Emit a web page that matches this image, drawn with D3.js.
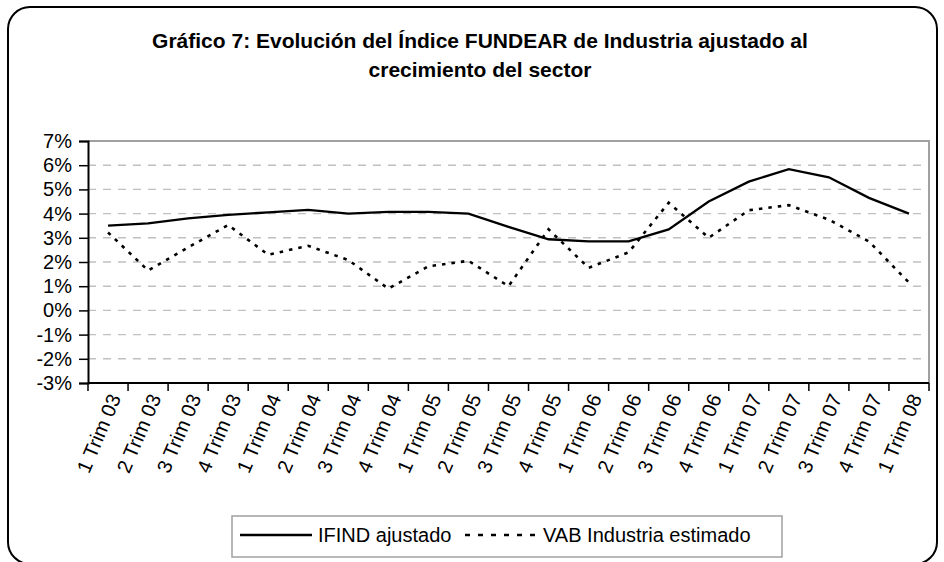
<!DOCTYPE html>
<html>
<head>
<meta charset="utf-8">
<script src="https://cdn.jsdelivr.net/npm/d3@7"></script>
<style>
  body { margin: 0; background: #fff; }
  svg { font-family: "Liberation Sans", Arial, sans-serif; }
</style>
</head>
<body>
<svg id="chart" width="944" height="562"></svg>
<script>
// data
var trimestres = ["1 Trim 03", "2 Trim 03", "3 Trim 03", "4 Trim 03",
  "1 Trim 04", "2 Trim 04", "3 Trim 04", "4 Trim 04",
  "1 Trim 05", "2 Trim 05", "3 Trim 05", "4 Trim 05",
  "1 Trim 06", "2 Trim 06", "3 Trim 06", "4 Trim 06",
  "1 Trim 07", "2 Trim 07", "3 Trim 07", "4 Trim 07",
  "1 Trim 08"];
var ifindAjustado = [3.5, 3.6, 3.8, 3.95, 4.05, 4.15, 4.0, 4.07, 4.07, 4.0, 3.45,
  2.94, 2.85, 2.85, 3.35, 4.5, 5.32, 5.84, 5.5, 4.65, 4.0];
var vabEstimado = [3.22, 1.65, 2.6, 3.53, 2.3, 2.67, 2.08, 0.9, 1.82, 2.05, 1.0,
  3.35, 1.76, 2.4, 4.45, 3.0, 4.14, 4.35, 3.75, 2.85, 1.15];
var yTicks = [-3, -2, -1, 0, 1, 2, 3, 4, 5, 6, 7];
var seriesNames = ["IFIND ajustado", "VAB Industria estimado"];

var svg = d3.select("#chart");
var plot = { left: 88, right: 929, top: 141, bottom: 383 };

// outer rounded frame
svg.append("rect")
  .attr("x", 8).attr("y", 7)
  .attr("width", 929).attr("height", 557)
  .attr("rx", 22).attr("ry", 22)
  .attr("fill", "#fff")
  .attr("stroke", "#000")
  .attr("stroke-width", 2);

// title
var title = svg.append("text")
  .attr("text-anchor", "middle")
  .style("font-weight", "bold")
  .style("font-size", "21px");
title.append("tspan").attr("x", 480).attr("y", 48)
  .text("Gráfico 7: Evolución del Índice FUNDEAR de Industria ajustado al");
title.append("tspan").attr("x", 480).attr("y", 77)
  .text("crecimiento del sector");

var x = d3.scaleBand()
  .domain(trimestres)
  .range([plot.left, plot.right]);

var y = d3.scaleLinear()
  .domain([-3, 7])
  .range([plot.bottom, plot.top]);

// gridlines
svg.append("g")
  .selectAll("line")
  .data(yTicks.filter(function (d) { return d > -3 && d < 7; }))
  .enter().append("line")
  .attr("x1", plot.left).attr("x2", plot.right)
  .attr("y1", function (d) { return y(d); })
  .attr("y2", function (d) { return y(d); })
  .attr("stroke", "#c0c0c0")
  .attr("stroke-width", 1.4)
  .attr("stroke-dasharray", "8,7");

// plot area border (top + right)
svg.append("path")
  .attr("d", "M" + plot.left + "," + plot.top + "H" + plot.right + "V" + plot.bottom)
  .attr("fill", "none")
  .attr("stroke", "#a0a0a0")
  .attr("stroke-width", 2);

// y axis
var yAxis = svg.append("g")
  .attr("transform", "translate(" + plot.left + ",0)")
  .call(d3.axisLeft(y).tickValues(yTicks).tickSize(9).tickPadding(7)
    .tickFormat(function (d) { return d + "%"; }));
yAxis.select(".domain").attr("stroke", "#000").attr("stroke-width", 2);
yAxis.selectAll(".tick line").attr("stroke", "#000").attr("stroke-width", 1.5);
yAxis.selectAll("text")
  .style("font-size", "20px")
  .attr("fill", "#000");

// x axis: ticks between categories
var xAxis = svg.append("g");
xAxis.append("line")
  .attr("x1", plot.left).attr("x2", plot.right)
  .attr("y1", plot.bottom).attr("y2", plot.bottom)
  .attr("stroke", "#000").attr("stroke-width", 2);
var edges = trimestres.map(function (d) { return x(d); }).concat([x.range()[1]]);
xAxis.selectAll(".xtick")
  .data(edges)
  .enter().append("line")
  .attr("class", "xtick")
  .attr("x1", function (d) { return d; }).attr("x2", function (d) { return d; })
  .attr("y1", plot.bottom).attr("y2", plot.bottom + 8)
  .attr("stroke", "#000").attr("stroke-width", 1.5);
xAxis.selectAll(".xlabel")
  .data(trimestres)
  .enter().append("text")
  .attr("class", "xlabel")
  .attr("text-anchor", "end")
  .attr("transform", function (d) {
    return "translate(" + (x(d) + x.bandwidth() / 2 + 7) + "," + (plot.bottom + 12) + ") rotate(-67)";
  })
  .attr("dy", "0.35em")
  .style("font-size", "20px")
  .text(function (d) { return d; });

// lines
var line = function (values) {
  return d3.line()
    .x(function (d, i) { return x(trimestres[i]) + x.bandwidth() / 2; })
    .y(function (d) { return y(d); })(values);
};

svg.append("path")
  .attr("d", line(ifindAjustado))
  .attr("fill", "none")
  .attr("stroke", "#000")
  .attr("stroke-width", 2.3);

svg.append("path")
  .attr("d", line(vabEstimado))
  .attr("fill", "none")
  .attr("stroke", "#000")
  .attr("stroke-width", 2.6)
  .attr("stroke-dasharray", "3.5,6");

// legend
var legend = svg.append("g");
legend.append("rect")
  .attr("x", 232).attr("y", 516)
  .attr("width", 550).attr("height", 41)
  .attr("fill", "#fff")
  .attr("stroke", "#a0a0a0")
  .attr("stroke-width", 1.5);

var legendItems = [
  { name: seriesNames[0], x: 240, dash: null },
  { name: seriesNames[1], x: 465, dash: "5,8" }
];
legendItems.forEach(function (it) {
  legend.append("line")
    .attr("x1", it.x).attr("x2", it.x + 72)
    .attr("y1", 535).attr("y2", 535)
    .attr("stroke", "#000")
    .attr("stroke-width", 2.3)
    .attr("stroke-dasharray", it.dash);
  legend.append("text")
    .attr("x", it.x + 78).attr("y", 542)
    .style("font-size", "20px")
    .text(it.name);
});
</script>
</body>
</html>
